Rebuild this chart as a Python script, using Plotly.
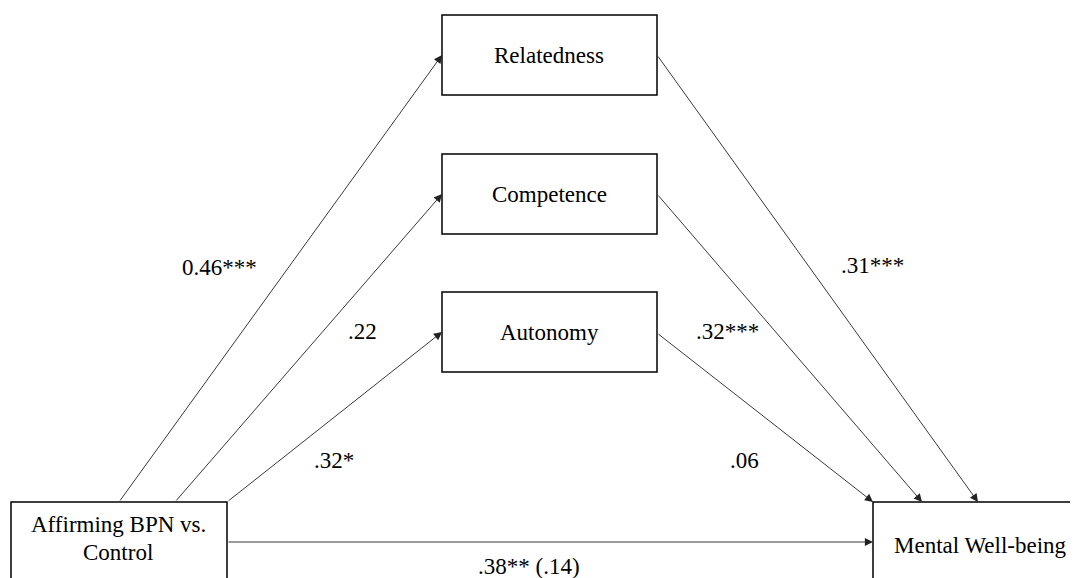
import plotly.graph_objects as go

# ---- data ----
node_labels = ["Affirming BPN vs.<br>Control", "Relatedness", "Competence", "Autonomy", "Mental Well-being"]
path_from = [0, 0, 0, 1, 2, 3, 0]
path_to = [1, 2, 3, 4, 4, 4, 4]
path_labels = ["0.46***", ".22", ".32*", ".31***", ".32***", ".06", ".38** (.14)"]

# ---- layout geometry (pixels) ----
boxes = [
    (11, 502, 227, 590),     # Affirming
    (442, 15, 657, 95),      # Relatedness
    (442, 154, 657, 234),    # Competence
    (442, 292, 657, 372),    # Autonomy
    (873, 502, 1095, 590),   # Mental Well-being
]
text_pos = [None, (549, 55), (549, 194), (549, 332), (980, 545)]
affirm_lines = [(118, 524), (118, 552)]
tails = [(119, 502), (175, 502), (227, 502), (657, 55), (657, 194), (657, 333), (227, 542)]
heads = [(442, 55), (442, 194), (442, 332), (978, 502), (922, 502), (873, 502), (873, 542)]
label_pos = [(219, 267), (362, 331), (334, 460), (872, 265), (727, 331), (744, 460), (529, 566)]

FONT = dict(family="Liberation Serif", size=23, color="black")
PAGE_OFFSET = 8  # default body margin of the written HTML page

fig = go.Figure()
shapes = []
for (x0, y0, x1, y1) in boxes:
    shapes.append(dict(type="rect", xref="x", yref="y", x0=x0, y0=y0, x1=x1, y1=y1,
                       line=dict(color="black", width=1.5), fillcolor="rgba(0,0,0,0)", layer="above"))

annotations = []
for i, lab in enumerate(node_labels):
    if i == 0:
        parts = lab.split("<br>")
        for p, (x, y) in zip(parts, affirm_lines):
            annotations.append(dict(x=x, y=y, xref="x", yref="y", text=p, showarrow=False, font=FONT))
    else:
        x, y = text_pos[i]
        annotations.append(dict(x=x, y=y, xref="x", yref="y", text=lab, showarrow=False, font=FONT))

for k in range(len(path_from)):
    hx, hy = heads[k]
    tx, ty = tails[k]
    annotations.append(dict(x=hx, y=hy, ax=tx, ay=ty, xref="x", yref="y", axref="x", ayref="y",
                            text="", showarrow=True, arrowhead=2, arrowsize=1.8, arrowwidth=0.9,
                            arrowcolor="#222", standoff=0, startstandoff=0))
    lx, ly = label_pos[k]
    annotations.append(dict(x=lx, y=ly, xref="x", yref="y", text=path_labels[k], showarrow=False, font=FONT))

fig.update_layout(
    width=1078, height=578,
    margin=dict(l=0, r=0, t=0, b=0),
    paper_bgcolor="white", plot_bgcolor="white",
    xaxis=dict(range=[PAGE_OFFSET, 1078 + PAGE_OFFSET], visible=False, fixedrange=True),
    yaxis=dict(range=[578 + PAGE_OFFSET, PAGE_OFFSET], visible=False, fixedrange=True),
    shapes=shapes, annotations=annotations, showlegend=False,
)
fig.write_html("out.html")
